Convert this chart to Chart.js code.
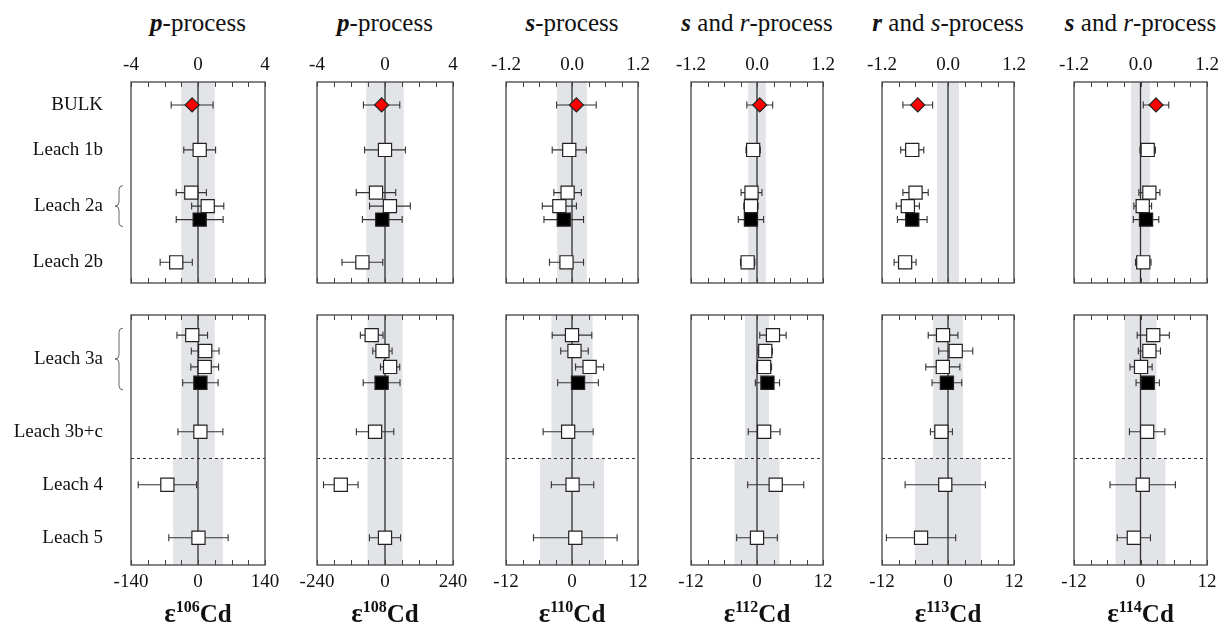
<!DOCTYPE html>
<html><head><meta charset="utf-8">
<script src="https://cdn.jsdelivr.net/npm/chart.js@4"></script>
<style>
body{margin:0;background:#fff;width:1220px;height:625px;position:relative;overflow:hidden;font-family:"Liberation Serif","Times New Roman",serif;color:#111;}
canvas{position:absolute;}
.title{position:absolute;top:9px;font-size:25px;transform:translateX(-50%);white-space:nowrap;}
.xt{position:absolute;top:598px;font-size:25px;font-weight:bold;transform:translateX(-50%);white-space:nowrap;}
.xt .eps{font-size:27px;}
.xt .sup{font-size:16px;position:relative;top:-10px;}
</style></head><body>
<script>
// ---------------- data ----------------
const isotopes = ['106', '108', '110', '112', '113', '114'];
const processTitles = [
  '<b><i>p</i></b>-process', '<b><i>p</i></b>-process', '<b><i>s</i></b>-process',
  '<b><i>s</i></b> and <i>r</i>-process', '<b><i>r</i></b> and <i>s</i>-process', '<b><i>s</i></b> and <i>r</i>-process'
];
const rowsTop = ['BULK', 'Leach 1b', 'Leach 2a', 'Leach 2b'];
const repsTop = [1, 1, 3, 1];
const rowsBottom = ['Leach 3a', 'Leach 3b+c', 'Leach 4', 'Leach 5'];
const repsBottom = [4, 1, 1, 1];
const kindsTop = ['bulk', 'open', 'open', 'open', 'filled', 'open'];
const kindsBottom = ['open', 'open', 'open', 'filled', 'open', 'open', 'open'];

const topTickLabels = [['-4','0','4'], ['-4','0','4'], ['-1.2','0.0','1.2'], ['-1.2','0.0','1.2'], ['-1.2','0.0','1.2'], ['-1.2','0.0','1.2']];
const bottomTickLabels = [['-140','0','140'], ['-240','0','240'], ['-12','0','12'], ['-12','0','12'], ['-12','0','12'], ['-12','0','12']];

const cd106Top = [-0.35, 0.1, -0.4, 0.58, 0.1, -1.3];
const cd106TopErr = [1.25, 0.95, 0.9, 0.96, 1.4, 0.96];
const cd106Bot = [-12, 15, 14, 5, 5, -64, 1];
const cd106BotErr = [32, 29, 29, 37, 47, 61, 62];

const cd108Top = [-0.2, 0, -0.53, 0.29, -0.16, -1.33];
const cd108TopErr = [1.07, 1.2, 1.16, 1.2, 1.17, 1.2];
const cd108Bot = [-47, -9, 18, -12, -35, -156, 0];
const cd108BotErr = [40, 34, 34, 65, 66, 61, 55];

const cd110Top = [0.08, -0.05, -0.08, -0.23, -0.15, -0.1];
const cd110TopErr = [0.36, 0.31, 0.25, 0.31, 0.36, 0.31];
const cd110Bot = [0, 0.45, 3.2, 1.1, -0.7, 0.1, 0.6];
const cd110BotErr = [3.6, 2.5, 2.55, 3.7, 4.55, 3.85, 7.6];

const cd112Top = [0.05, -0.07, -0.1, -0.11, -0.11, -0.17];
const cd112TopErr = [0.235, 0.13, 0.19, 0.13, 0.23, 0.13];
const cd112Bot = [2.9, 1.5, 1.3, 1.9, 1.3, 3.4, 0.0];
const cd112BotErr = [2.4, 1.3, 1.35, 2.2, 2.9, 5.1, 3.7];

const cd113Top = [-0.55, -0.65, -0.59, -0.73, -0.65, -0.78];
const cd113TopErr = [0.27, 0.21, 0.23, 0.21, 0.27, 0.2];
const cd113Bot = [-0.9, 1.4, -0.94, -0.2, -1.2, -0.5, -4.9];
const cd113BotErr = [2.7, 3.1, 3.1, 2.7, 2.0, 7.3, 6.3];

const cd114Top = [0.28, 0.13, 0.16, 0.04, 0.1, 0.05];
const cd114TopErr = [0.23, 0.14, 0.19, 0.16, 0.23, 0.14];
const cd114Bot = [2.3, 1.6, 0.1, 1.3, 1.2, 0.4, -1.2];
const cd114BotErr = [2.9, 2.0, 2.0, 2.1, 3.2, 5.9, 3.0];

// half-widths of the grey reference bands
const bandTop = [1.0, 1.1, 0.27, 0.16, 0.2, 0.17];
const bandBotUpper = [35, 62, 3.75, 2.2, 2.7, 2.9];
const bandBotLower = [52, 62, 5.8, 4.1, 6.0, 4.5];

const topValues = [cd106Top, cd108Top, cd110Top, cd112Top, cd113Top, cd114Top];
const topErrors = [cd106TopErr, cd108TopErr, cd110TopErr, cd112TopErr, cd113TopErr, cd114TopErr];
const botValues = [cd106Bot, cd108Bot, cd110Bot, cd112Bot, cd113Bot, cd114Bot];
const botErrors = [cd106BotErr, cd108BotErr, cd110BotErr, cd112BotErr, cd113BotErr, cd114BotErr];

// ---------------- layout ----------------
const colLeft = [131, 317, 506, 691, 882, 1074];
const colRight = [265, 453, 638, 823, 1014, 1207];
const FONT = '"Liberation Serif", "Times New Roman", serif';
const BAND = '#e3e4e8';
const INK = '#2e2e2e';

function rowCenters(reps) {
  const c = []; let p = 0;
  reps.forEach((n, i) => { if (i > 0) p += 1 + 0.25 * ((reps[i - 1] - 1) + (n - 1)) / 2; c.push(p); });
  return c;
}
function pointRows(reps) {
  const c = rowCenters(reps); const out = [];
  reps.forEach((n, i) => { for (let j = 0; j < n; j++) out.push(c[i] + (j - (n - 1) / 2) * 0.3); });
  return out;
}

function drawBrace(ctx, x, y1, y2) {
  const w = 4, ym = (y1 + y2) / 2;
  ctx.beginPath();
  ctx.moveTo(x + w, y1);
  ctx.quadraticCurveTo(x, y1, x, y1 + w);
  ctx.lineTo(x, ym - w);
  ctx.quadraticCurveTo(x, ym, x - w, ym);
  ctx.quadraticCurveTo(x, ym, x, ym + w);
  ctx.lineTo(x, y2 - w);
  ctx.quadraticCurveTo(x, y2, x + w, y2);
  ctx.stroke();
}

const deco = {
  id: 'deco',
  beforeDatasetsDraw(chart) {
    const o = chart.options.plugins.deco;
    const { ctx, chartArea: a, scales: { x, y } } = chart;
    ctx.save();
    ctx.beginPath(); ctx.rect(a.left, a.top, a.right - a.left, a.bottom - a.top); ctx.clip();
    ctx.fillStyle = BAND;
    if (o.sep == null) {
      const l = x.getPixelForValue(-o.band), r = x.getPixelForValue(o.band);
      ctx.fillRect(l, a.top, r - l, a.bottom - a.top);
    } else {
      const ys = y.getPixelForValue(o.sep);
      let l = x.getPixelForValue(-o.band), r = x.getPixelForValue(o.band);
      ctx.fillRect(l, a.top, r - l, ys - a.top);
      l = x.getPixelForValue(-o.band2); r = x.getPixelForValue(o.band2);
      ctx.fillRect(l, ys, r - l, a.bottom - ys);
      ctx.strokeStyle = INK; ctx.lineWidth = 1; ctx.setLineDash([3, 3]);
      ctx.beginPath(); ctx.moveTo(a.left, Math.round(ys) + 0.5); ctx.lineTo(a.right, Math.round(ys) + 0.5); ctx.stroke();
      ctx.setLineDash([]);
    }
    // zero line
    const x0 = x.getPixelForValue(0);
    ctx.strokeStyle = INK; ctx.lineWidth = 1.3;
    ctx.beginPath(); ctx.moveTo(x0, a.top); ctx.lineTo(x0, a.bottom); ctx.stroke();
    // error bars
    ctx.lineWidth = 1.1; ctx.strokeStyle = '#333';
    chart.data.datasets.forEach(ds => {
      ds.data.forEach((p, i) => {
        const e = ds.errors[i];
        const yp = y.getPixelForValue(p.y);
        const xl = x.getPixelForValue(p.x - e), xr = x.getPixelForValue(p.x + e);
        ctx.beginPath();
        ctx.moveTo(xl, yp); ctx.lineTo(xr, yp);
        ctx.moveTo(xl, yp - 3.5); ctx.lineTo(xl, yp + 3.5);
        ctx.moveTo(xr, yp - 3.5); ctx.lineTo(xr, yp + 3.5);
        ctx.stroke();
      });
    });
    ctx.restore();
  },
  afterDatasetsDraw(chart) {
    const o = chart.options.plugins.deco;
    const { ctx, chartArea: a, scales: { x, y } } = chart;
    ctx.save();
    ctx.strokeStyle = '#444'; ctx.lineWidth = 1;
    x.ticks.forEach(t => {
      const px = Math.round(x.getPixelForValue(t.value)) + 0.5;
      ctx.beginPath();
      ctx.moveTo(px, a.top); ctx.lineTo(px, a.top + 5);
      ctx.moveTo(px, a.bottom); ctx.lineTo(px, a.bottom - 5);
      ctx.stroke();
    });
    ctx.lineWidth = 1.3;
    ctx.strokeRect(a.left, a.top, a.right - a.left, a.bottom - a.top);
    if (o.braces) {
      ctx.strokeStyle = '#666'; ctx.lineWidth = 1;
      o.braces.forEach(([v1, v2]) => {
        drawBrace(ctx, a.left - 12, y.getPixelForValue(v1) - 7, y.getPixelForValue(v2) + 7);
      });
    }
    ctx.restore();
  }
};

function makePanel(col, isTop) {
  const L = colLeft[col], R = colRight[col];
  const first = col === 0;
  const padX = 25;
  const canvasLeft = first ? 0 : L - padX;
  const canvasTop = isTop ? 40 : 301;
  const canvasBottom = isTop ? 297 : 600;
  const areaTop = isTop ? 82 : 315, areaBottom = isTop ? 283 : 565;
  const cv = document.createElement('canvas');
  cv.width = R + padX - canvasLeft; cv.height = canvasBottom - canvasTop;
  cv.style.left = canvasLeft + 'px'; cv.style.top = canvasTop + 'px';
  document.body.appendChild(cv);

  const rows = isTop ? rowsTop : rowsBottom;
  const reps = isTop ? repsTop : repsBottom;
  const kinds = isTop ? kindsTop : kindsBottom;
  const vals = isTop ? topValues[col] : botValues[col];
  const errs = isTop ? topErrors[col] : botErrors[col];
  const labels = isTop ? topTickLabels[col] : bottomTickLabels[col];
  const xmin = parseFloat(labels[0]), xmax = parseFloat(labels[labels.length - 1]);
  const step = (xmax - xmin) / 8;
  const tickVals = []; for (let i = 0; i <= 8; i++) tickVals.push(xmin + i * step);
  const ys = pointRows(reps);
  const centers = rowCenters(reps);
  const sep = isTop ? null : (centers[1] + centers[2]) / 2;

  const braces = [];
  if (first) {
    let k = 0;
    reps.forEach(n => { if (n > 1) braces.push([ys[k], ys[k + n - 1]]); k += n; });
  }

  new Chart(cv, {
    type: 'scatter',
    data: {
      datasets: [{
        data: vals.map((v, i) => ({ x: v, y: ys[i] })),
        errors: errs,
        pointStyle: kinds.map(k => k === 'bulk' ? 'rectRot' : 'rect'),
        pointRadius: kinds.map(k => k === 'bulk' ? 7 : 9.3),
        pointBackgroundColor: kinds.map(k => k === 'bulk' ? '#ff0000' : (k === 'filled' ? '#000' : '#fff')),
        pointBorderColor: '#222',
        pointBorderWidth: 1.2,
        pointHoverRadius: kinds.map(k => k === 'bulk' ? 7 : 9.3)
      }]
    },
    options: {
      responsive: false, animation: false, events: [],
      layout: { padding: { left: first ? 0 : padX, right: padX, top: isTop ? 0 : areaTop - canvasTop, bottom: isTop ? canvasBottom - areaBottom : 0 } },
      plugins: { legend: { display: false }, tooltip: { enabled: false },
        deco: { band: isTop ? bandTop[col] : bandBotUpper[col], band2: isTop ? null : bandBotLower[col], sep: sep, braces: braces } },
      scales: {
        x: {
          type: 'linear', position: isTop ? 'top' : 'bottom', min: xmin, max: xmax,
          grid: { display: false, drawTicks: false }, border: { display: false },
          afterBuildTicks: s => { s.ticks = tickVals.map(v => ({ value: v })); },
          afterFit: s => { s.height = isTop ? areaTop - canvasTop : canvasBottom - areaBottom; s.paddingLeft = 0; s.paddingRight = 0; },
          ticks: {
            autoSkip: false, maxRotation: 0, minRotation: 0, padding: 6, color: '#111',
            font: { family: FONT, size: 19 },
            callback: v => { const m = labels.find(l => Math.abs(parseFloat(l) - v) < 1e-6); return m === undefined ? '' : m; }
          }
        },
        y: {
          type: 'linear', reverse: true, display: first,
          min: isTop ? -0.51 : -0.83, max: isTop ? 3.96 : 3.89,
          grid: { display: false, drawTicks: false }, border: { display: false },
          afterBuildTicks: s => { s.ticks = centers.map(v => ({ value: v })); },
          afterFit: s => { if (first) { s.width = L; } s.paddingTop = 0; s.paddingBottom = 0; },
          ticks: {
            autoSkip: false, padding: 28, color: '#111',
            font: { family: FONT, size: 19 },
            callback: (v, i) => rows[i]
          }
        }
      }
    },
    plugins: [deco]
  });
}

for (let c = 0; c < 6; c++) {
  makePanel(c, true);
  makePanel(c, false);
  const mid = (colLeft[c] + colRight[c]) / 2;
  const t = document.createElement('div');
  t.className = 'title'; t.style.left = mid + 'px'; t.innerHTML = processTitles[c];
  document.body.appendChild(t);
  const xt = document.createElement('div');
  xt.className = 'xt'; xt.style.left = mid + 'px';
  xt.innerHTML = '<span class="eps">ε</span><span class="sup">' + isotopes[c] + '</span>Cd';
  document.body.appendChild(xt);
}
</script>
</body></html>
